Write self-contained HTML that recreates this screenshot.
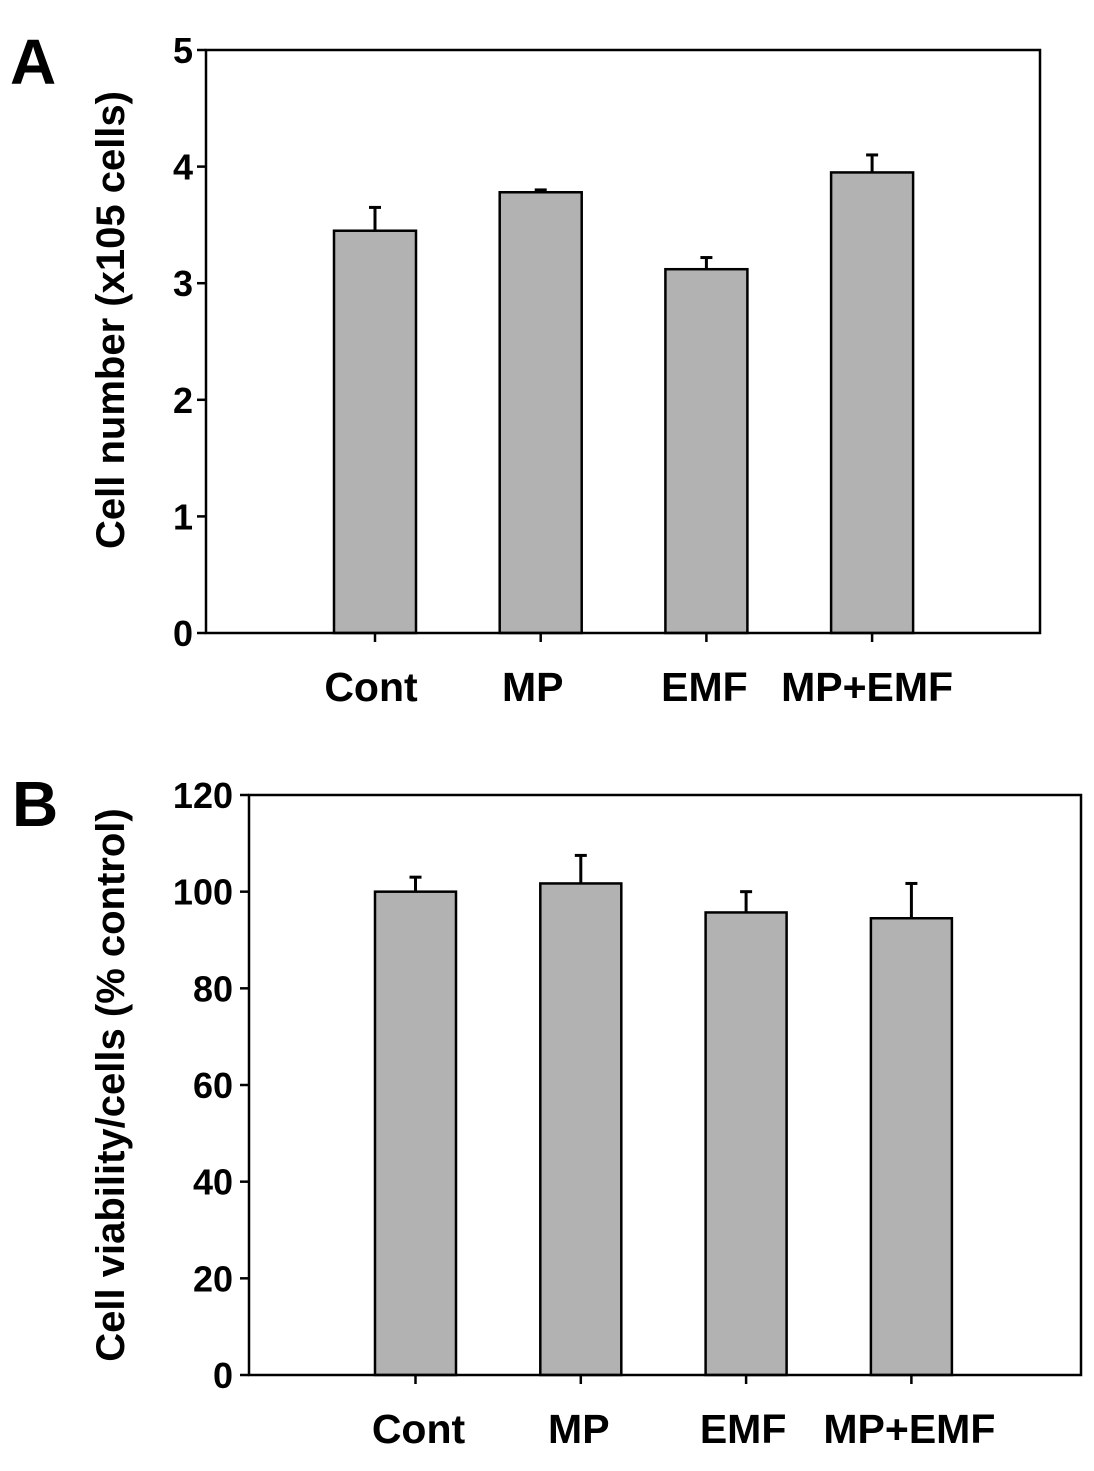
<!DOCTYPE html>
<html><head><meta charset="utf-8"><style>
body{margin:0;background:#fff;}
svg text{font-family:"Liberation Sans",Arial,sans-serif;font-weight:bold;fill:#000;}
</style></head><body>
<svg id="chart" width="1094" height="1466" xmlns="http://www.w3.org/2000/svg"></svg>
<script>
const categories=["Cont","MP","EMF","MP+EMF"];
const valuesA=[3.45,3.78,3.12,3.95];
const errorsA=[0.2,0.02,0.1,0.15];
const ticksA=[0,1,2,3,4,5];
const valuesB=[100,101.7,95.7,94.5];
const errorsB=[3,5.8,4.3,7.2];
const ticksB=[0,20,40,60,80,100,120];

const NS="http://www.w3.org/2000/svg";
const svg=document.getElementById('chart');
function mk(tag,attrs,parent,text){const e=document.createElementNS(NS,tag);for(const k in attrs)e.setAttribute(k,attrs[k]);if(text!==undefined)e.textContent=text;(parent||svg).appendChild(e);return e;}

function panel(cfg){
  const g=mk('g',{});
  
  
  const y=v=>cfg.y0-(v-cfg.min)/(cfg.max-cfg.min)*(cfg.y0-cfg.y1);
  const barX=i=>cfg.bx0+i*cfg.step;
  cfg.values.forEach((v,i)=>{
    const x=barX(i), top=y(v), et=y(v+cfg.errors[i]);
    const cx=x+cfg.bw/2;
    const eb=mk('line',{x1:cx,x2:cx,y1:top,y2:et,stroke:'#000','stroke-width':3},g);
    
    
    const cap=mk('line',{x1:cx-6,x2:cx+6,y1:et,y2:et,stroke:'#000','stroke-width':3},g);
    
    
    const r=mk('rect',{x:x,y:top,width:cfg.bw,height:cfg.y0-top,fill:'#b2b2b2',stroke:'#000','stroke-width':2.5},g);
    
    
    const t=mk('line',{x1:cx,x2:cx,y1:cfg.y0,y2:cfg.y0+9,stroke:'#000','stroke-width':2.5},g);
    
    
    const l=mk('text',{x:cx+cfg.labOff[i],y:cfg.y0+68,'font-size':41,'text-anchor':'middle'},g,categories[i]);
    
    
  });
  const box=mk('rect',{x:cfg.xL,y:cfg.y1,width:cfg.xR-cfg.xL,height:cfg.y0-cfg.y1,fill:'none',stroke:'#000','stroke-width':2.5},g);
  
  
  cfg.ticks.forEach(v=>{
    const t=mk('line',{x1:cfg.xL-9,x2:cfg.xL,y1:y(v),y2:y(v),stroke:'#000','stroke-width':2.5},g);
    
    
    const l=mk('text',{x:cfg.xL-cfg.tlOff,y:y(v)+13,'font-size':36,'text-anchor':'end'},g,String(v));
    
    
  });
  const yt=mk('text',{x:0,y:0,'font-size':40,'text-anchor':'middle',transform:`translate(${cfg.ytX},${cfg.ytY}) rotate(-90)`},g,cfg.ytitle);
  
  
  const pl=mk('text',{x:cfg.plX,y:cfg.plY,'font-size':64},g,cfg.letter);
  
  
}
panel({name:'panel-a',values:valuesA,errors:errorsA,ticks:ticksA,min:0,max:5,y0:633,y1:50,xL:206,xR:1040,bx0:334,step:165.7,bw:82,labOff:[-4,-8,-2,-5],ytitle:'Cell number (x105 cells)',ytX:124,ytY:320,letter:'A',plX:10,plY:84,tlOff:13});
panel({name:'panel-b',values:valuesB,errors:errorsB,ticks:ticksB,min:0,max:120,y0:1375,y1:795,xL:249,xR:1081,bx0:375,step:165.3,bw:81,labOff:[3,-2,-3,-2],ytitle:'Cell viability/cells (% control)',ytX:124,ytY:1085,letter:'B',plX:12,plY:826,tlOff:16});
</script>
</body></html>
